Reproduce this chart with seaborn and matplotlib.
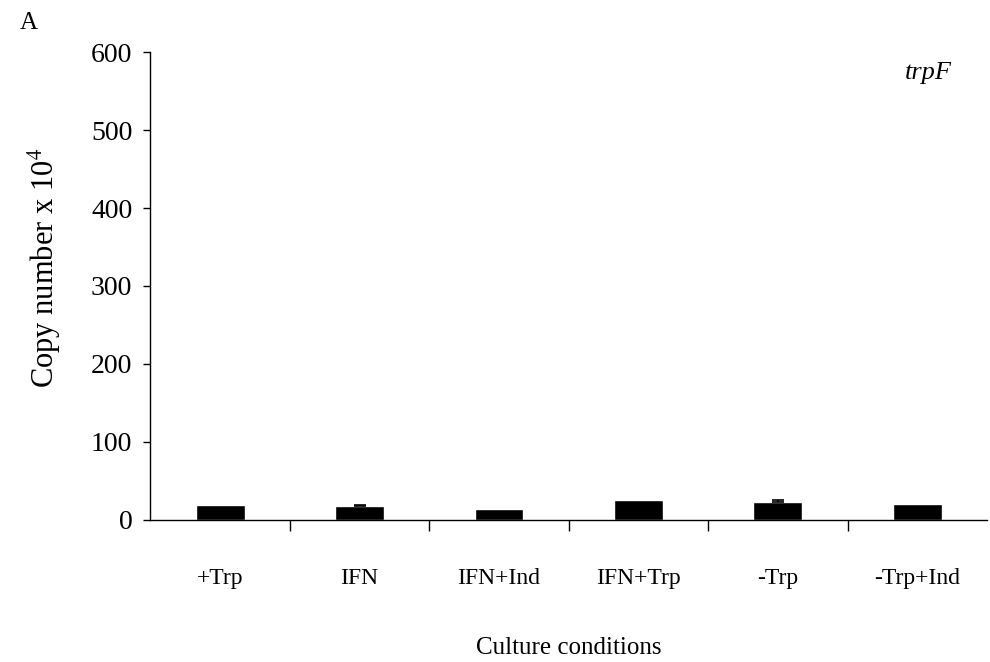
import numpy as np
import pandas as pd
import matplotlib
matplotlib.use("Agg")
import matplotlib.pyplot as plt
import seaborn as sns

# data
conditions = ["+Trp", "IFN", "IFN+Ind", "IFN+Trp", "-Trp", "-Trp+Ind"]
copy_number = [19, 17, 14, 25, 23, 20]
errors = [0, 2, 0, 0, 2, 0]

sns.set_theme(style="white", rc={"text.color": "black", "axes.labelcolor": "black",
                                 "xtick.color": "black", "ytick.color": "black"})
plt.rcParams["font.family"] = ["Liberation Serif", "DejaVu Serif"]
plt.rcParams["mathtext.fontset"] = "stix"

df = pd.DataFrame({"condition": conditions, "copies": copy_number})

fig = plt.figure(figsize=(9.9, 6.62), dpi=100)
ax = fig.add_axes([0.152, 0.215, 0.845, 0.706])

sns.barplot(data=df, x="condition", y="copies", color="black",
            width=0.35, errorbar=None, ax=ax, saturation=1)
xs = np.arange(len(conditions))
for x, v, e in zip(xs, copy_number, errors):
    if e > 0:
        ax.errorbar(x, v, yerr=[[0], [e]], color="black", capsize=4,
                    elinewidth=1.2, capthick=1.2)

ax.set_ylim(0, 600)
ax.set_xlim(-0.5, len(conditions) - 0.5)
ax.set_yticks(range(0, 601, 100))
ax.tick_params(axis="y", labelsize=20, direction="out", length=5, width=1,
               left=True, color="black", pad=8)
ax.tick_params(axis="x", which="major", labelsize=17, length=0, pad=35)
ax.set_xticks(np.arange(0.5, len(conditions) - 0.5, 1), minor=True)
ax.tick_params(axis="x", which="minor", direction="out", length=8, width=1,
               bottom=True, color="black")

for side in ["top", "right"]:
    ax.spines[side].set_visible(False)
for side in ["left", "bottom"]:
    ax.spines[side].set_color("black")
    ax.spines[side].set_linewidth(1)

ax.set_xlabel("Culture conditions", fontsize=18, labelpad=34)
ax.set_ylabel("Copy number x 10$^4$", fontsize=22)
ax.yaxis.set_label_coords(-0.105, 0.54)
ax.text(0.958, 0.955, "trpF", transform=ax.transAxes, fontsize=19,
        style="italic", ha="right", va="center")
fig.text(0.02, 0.965, "A", fontsize=18, ha="left", va="center")

fig.savefig("out.png", dpi=100)
